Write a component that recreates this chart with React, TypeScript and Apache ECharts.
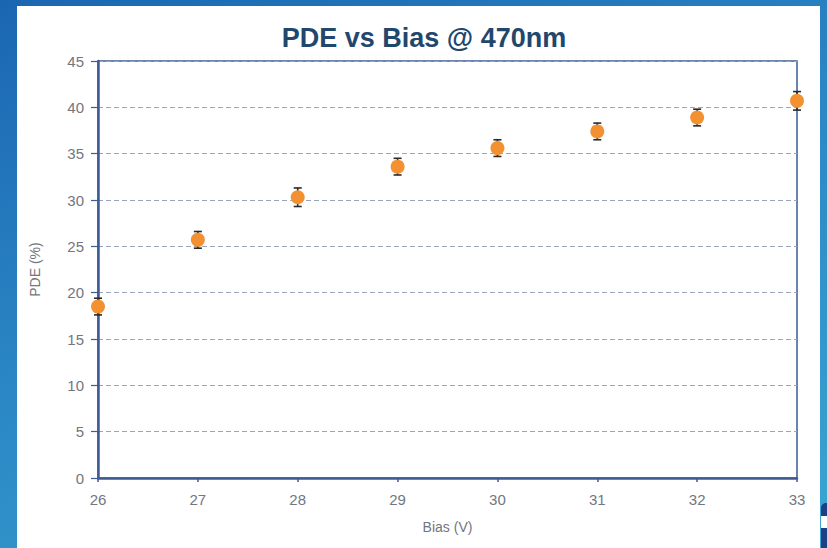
import React, { useEffect, useRef } from "react";
import * as echarts from "echarts";

// Bias voltage (V) and measured photon detection efficiency (%) at 470 nm
const biasVolts = [26, 27, 28, 29, 30, 31, 32, 33];
const pdePercent = [18.5, 25.7, 30.3, 33.6, 35.6, 37.4, 38.9, 40.7];
const pdeError = [0.9, 0.9, 1.0, 0.9, 0.9, 0.9, 0.9, 1.0];

const titleText = "PDE vs Bias @ 470nm";
const xAxisName = "Bias (V)";
const yAxisName = "PDE (%)";

const labelColor = "#72767f";
const axisColor = "#3d5c93";

export default function App() {
  const ref = useRef<HTMLDivElement>(null);

  useEffect(() => {
    if (!ref.current) return;
    const chart = echarts.init(ref.current, null, { renderer: "svg" });

    const points = biasVolts.map((b, i) => [b, pdePercent[i]]);
    const bars = biasVolts.map((b, i) => [b, pdePercent[i] - pdeError[i], pdePercent[i] + pdeError[i]]);

    chart.setOption({
      animation: false,
      backgroundColor: "#ffffff",
      title: {
        text: titleText,
        left: 402,
        top: 13,
        textAlign: "center",
        textStyle: {
          fontFamily: "Liberation Sans, Arial, sans-serif",
          fontSize: 27,
          fontWeight: "bold",
          color: "#22476d",
        },
      },
      grid: {
        left: 81,
        right: 23,
        top: 55,
        bottom: 70,
        show: true,
        borderColor: axisColor,
        borderWidth: 1.5,
        backgroundColor: "transparent",
      },
      xAxis: {
        type: "value",
        min: 26,
        max: 33,
        interval: 1,
        name: xAxisName,
        nameLocation: "middle",
        nameGap: 42,
        nameTextStyle: { color: labelColor, fontSize: 14, fontFamily: "Liberation Sans, Arial, sans-serif" },
        axisLine: { show: true, onZero: false, lineStyle: { color: axisColor, width: 2.5 } },
        axisTick: { show: true, length: 4, lineStyle: { color: axisColor, width: 1.5 } },
        axisLabel: { color: labelColor, fontSize: 15, margin: 14, fontFamily: "Liberation Sans, Arial, sans-serif" },
        splitLine: { show: false },
      },
      yAxis: {
        type: "value",
        min: 0,
        max: 45,
        interval: 5,
        name: yAxisName,
        nameLocation: "middle",
        nameGap: 56,
        nameRotate: 90,
        nameTextStyle: { color: labelColor, fontSize: 14, fontFamily: "Liberation Sans, Arial, sans-serif" },
        axisLine: { show: true, onZero: false, lineStyle: { color: axisColor, width: 2.5 } },
        axisTick: { show: true, length: 7, lineStyle: { color: axisColor, width: 1.2 } },
        axisLabel: { color: labelColor, fontSize: 15, margin: 14, fontFamily: "Liberation Sans, Arial, sans-serif" },
        splitLine: { show: true, lineStyle: { color: "#9aa6bd", type: [5, 3], width: 1 } },
      },
      series: [
        {
          type: "custom",
          z: 3,
          data: bars,
          renderItem: (params: any, api: any) => {
            const x = api.value(0);
            const lo = api.coord([x, api.value(1)]);
            const hi = api.coord([x, api.value(2)]);
            const half = 4;
            const style = { stroke: "#2a2a2a", lineWidth: 1.6 };
            return {
              type: "group",
              children: [
                { type: "line", shape: { x1: lo[0], y1: lo[1], x2: hi[0], y2: hi[1] }, style },
                { type: "line", shape: { x1: lo[0] - half, y1: lo[1], x2: lo[0] + half, y2: lo[1] }, style },
                { type: "line", shape: { x1: hi[0] - half, y1: hi[1], x2: hi[0] + half, y2: hi[1] }, style },
              ],
            };
          },
        },
        {
          type: "scatter",
          z: 4,
          data: points,
          symbol: "circle",
          symbolSize: 14,
          itemStyle: { color: "#f39131", opacity: 1 },
        },
      ],
    });

    return () => chart.dispose();
  }, []);

  return (
    <div
      style={{
        position: "fixed",
        left: 0,
        top: 0,
        width: 827,
        height: 548,
        overflow: "hidden",
        background: "linear-gradient(160deg, #1b66b2 0%, #2a86c4 45%, #3aa6d2 100%)",
      }}
    >
      <div style={{ position: "absolute", left: 821, top: 503, width: 10, height: 13, background: "#1d3f86", borderTopLeftRadius: 5 }} />
      <div style={{ position: "absolute", left: 821, top: 516, width: 10, height: 12, background: "#ffffff" }} />
      <div style={{ position: "absolute", left: 821, top: 528, width: 10, height: 20, background: "#1d3f86" }} />
      <div ref={ref} style={{ position: "absolute", left: 17, top: 6, width: 803, height: 542 }} />
    </div>
  );
}
